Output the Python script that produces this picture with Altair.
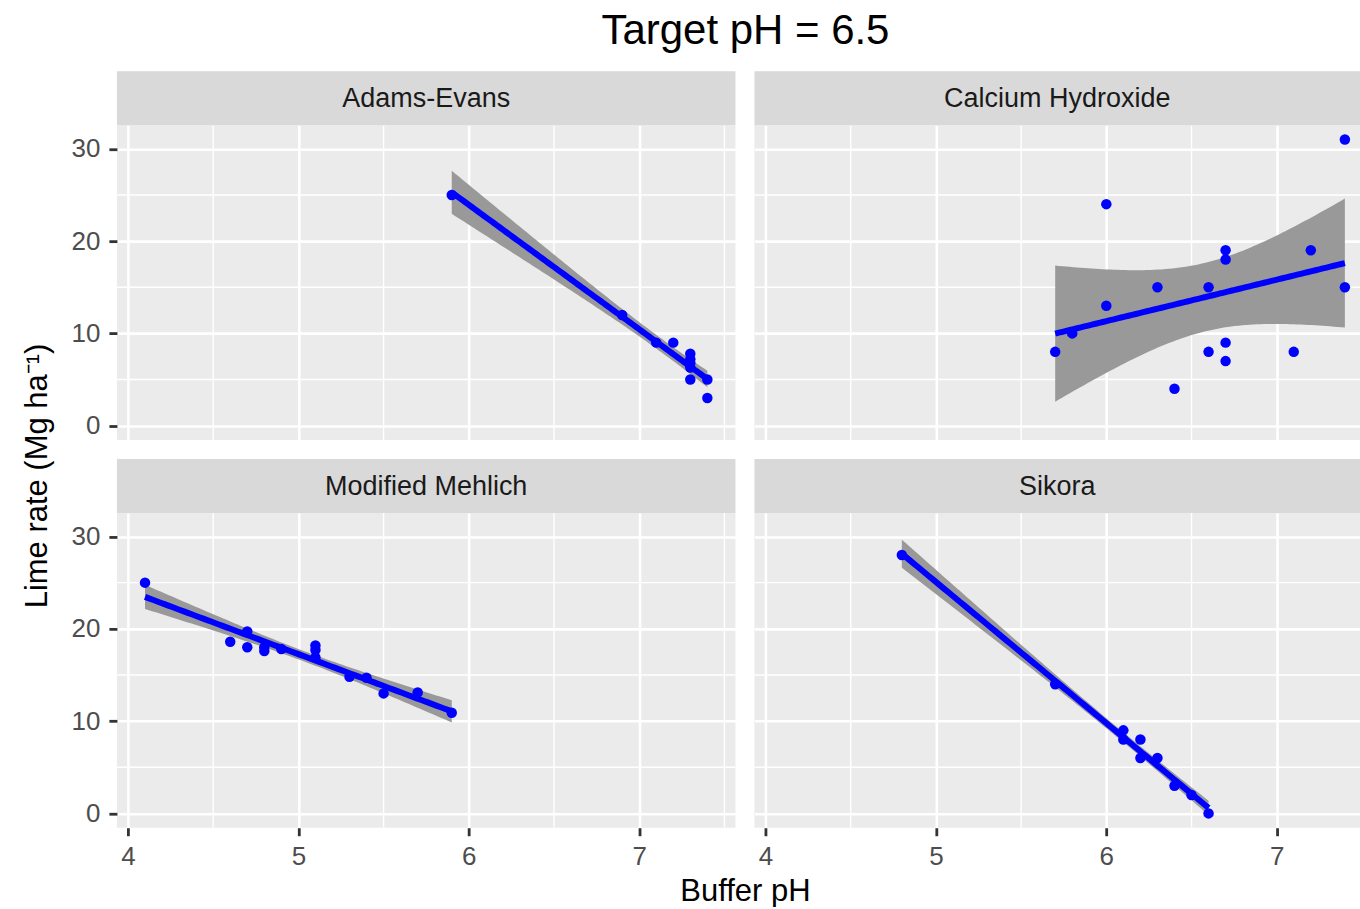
import math

import altair as alt
import numpy as np
import pandas as pd

FONT = "Liberation Sans"

# Lime requirement (Mg/ha) against buffer pH for each buffer method
adams_ph = [5.9, 6.9, 7.1, 7.2, 7.3, 7.3, 7.3, 7.3, 7.3, 7.4, 7.4]
adams_rate = [25, 12, 9, 9, 7.8, 7.2, 6.8, 6.3, 5, 5, 3]

caoh_ph = [5.7, 5.8, 6.0, 6.0, 6.3, 6.4, 6.6, 6.6, 6.7, 6.7, 6.7, 6.7, 7.1, 7.2, 7.4, 7.4]
caoh_rate = [8, 10, 24, 13, 15, 4, 15, 8, 19, 18, 9, 7, 8, 19, 31, 15]

mehlich_ph = [4.1, 4.6, 4.7, 4.7, 4.8, 4.8, 4.9, 5.1, 5.1, 5.1, 5.3, 5.4, 5.5, 5.7, 5.9]
mehlich_rate = [25, 18.6, 19.7, 18, 18, 17.6, 17.8, 18.2, 17.7, 16.9, 14.8, 14.7, 13, 13.1, 10.9]

sikora_ph = [4.8, 5.7, 6.1, 6.1, 6.2, 6.2, 6.3, 6.4, 6.5, 6.6]
sikora_rate = [28, 14, 9, 8, 8, 6, 6, 3, 2, 0]

methods = ["Adams-Evans", "Calcium Hydroxide", "Modified Mehlich", "Sikora"]
series = {
    "Adams-Evans": (adams_ph, adams_rate),
    "Calcium Hydroxide": (caoh_ph, caoh_rate),
    "Modified Mehlich": (mehlich_ph, mehlich_rate),
    "Sikora": (sikora_ph, sikora_rate),
}

x_major = [4, 5, 6, 7]
x_minor = [4.5, 5.5, 6.5, 7.5]
y_major = [0, 10, 20, 30]
y_minor = [5, 15, 25]

# panel geometry
LEFT_W = 619
RIGHT_W = 606
PANEL_H = 315
STRIP_H = 54
X_LO, X_HI = 3.935, 7.565
Y_DOMAIN = [-1.55, 32.55]
PX_PER_UNIT = LEFT_W / (X_HI - X_LO)


def t_quantile(p, df):
    """Student-t quantile by integrating the density numerically."""
    grid = np.linspace(0.0, 15.0, 150001)
    c = math.gamma((df + 1) / 2) / (math.sqrt(df * math.pi) * math.gamma(df / 2))
    pdf = c * (1 + grid ** 2 / df) ** (-(df + 1) / 2)
    steps = (pdf[1:] + pdf[:-1]) / 2 * np.diff(grid)
    cdf = 0.5 + np.concatenate([[0.0], np.cumsum(steps)])
    return float(np.interp(p, cdf, grid))


def linear_fit(xs, ys, n=80):
    """OLS line with a 95% confidence band, like geom_smooth(method = 'lm')."""
    x = np.asarray(xs, dtype=float)
    y = np.asarray(ys, dtype=float)
    b1, b0 = np.polyfit(x, y, 1)
    resid = y - (b0 + b1 * x)
    dof = len(x) - 2
    s = math.sqrt(float(resid @ resid) / dof)
    sxx = float(((x - x.mean()) ** 2).sum())
    g = np.linspace(x.min(), x.max(), n)
    fit = b0 + b1 * g
    se = s * np.sqrt(1.0 / len(x) + (g - x.mean()) ** 2 / sxx)
    t = t_quantile(0.975, dof)
    return pd.DataFrame({"x": g, "fit": fit, "lo": fit - t * se, "hi": fit + t * se})


def panel(name, width, show_x, show_y, extras=()):
    ph, rate = series[name]
    pts = pd.DataFrame({"ph": ph, "rate": rate})
    fit = linear_fit(ph, rate)
    x_hi = X_LO + width / PX_PER_UNIT

    xscale = alt.Scale(domain=[X_LO, x_hi], nice=False, zero=False)
    yscale = alt.Scale(domain=Y_DOMAIN, nice=False, zero=False)
    xaxis = alt.Axis(
        values=x_major, title=None, grid=True, domain=False,
        labels=show_x, ticks=show_x, labelPadding=8,
    )
    yaxis = alt.Axis(
        values=y_major, title=None, grid=True, domain=False,
        labels=show_y, ticks=show_y, labelPadding=9,
    )

    def X(field):
        return alt.X(field, type="quantitative", scale=xscale, axis=xaxis)

    def Y(field):
        return alt.Y(field, type="quantitative", scale=yscale, axis=yaxis)

    minor_x = alt.Chart(pd.DataFrame({"v": x_minor})).mark_rule(
        color="white", strokeWidth=1.4, clip=True
    ).encode(x=X("v"))
    minor_y = alt.Chart(pd.DataFrame({"v": y_minor})).mark_rule(
        color="white", strokeWidth=1.4, clip=True
    ).encode(y=Y("v"))

    band = alt.Chart(fit).mark_area(color="#999999", opacity=1).encode(
        x=X("x"), y=Y("lo"), y2="hi"
    )
    line = alt.Chart(fit).mark_line(color="#0000FF", strokeWidth=6).encode(
        x=X("x"), y=Y("fit")
    )
    dots = alt.Chart(pts).mark_circle(color="#0000FF", size=110, opacity=1).encode(
        x=X("ph"), y=Y("rate")
    )

    lab = pd.DataFrame({"label": [name]})
    strip = alt.Chart(lab).mark_rect(color="#D9D9D9").encode(
        x=alt.value(0), x2=alt.value(width),
        y=alt.value(-STRIP_H), y2=alt.value(0),
    )
    strip_text = alt.Chart(lab).mark_text(
        font=FONT, fontSize=27, color="#1A1A1A", align="center", baseline="middle"
    ).encode(
        x=alt.value(width / 2), y=alt.value(-STRIP_H / 2 + 1), text="label:N"
    )

    return alt.layer(
        minor_x, minor_y, band, line, dots, strip, strip_text, *extras
    ).properties(width=width, height=PANEL_H)


title_text = alt.Chart(pd.DataFrame({"t": ["Target pH = 6.5"]})).mark_text(
    font=FONT, fontSize=42, color="black", align="center", baseline="alphabetic"
).encode(x=alt.value(629), y=alt.value(-81), text="t:N")

x_title = alt.Chart(pd.DataFrame({"t": ["Buffer pH"]})).mark_text(
    font=FONT, fontSize=31, color="black", align="center", baseline="alphabetic"
).encode(x=alt.value(629), y=alt.value(PANEL_H + 73), text="t:N")

y_title = alt.Chart(pd.DataFrame({"t": ["Lime rate (Mg ha\u207b\u00b9)"]})).mark_text(
    font=FONT, fontSize=31, color="black", align="center", baseline="middle", angle=270
).encode(x=alt.value(-79), y=alt.value(-37), text="t:N")

chart = alt.concat(
    panel("Adams-Evans", LEFT_W, False, True, extras=(title_text,)),
    panel("Calcium Hydroxide", RIGHT_W, False, False),
    panel("Modified Mehlich", LEFT_W, True, True, extras=(x_title, y_title)),
    panel("Sikora", RIGHT_W, True, False),
    columns=2,
    spacing={"row": 73, "column": 19},
    bounds="flush",
).properties(
    padding={"left": 21, "top": 10, "right": 0, "bottom": 0},
    background="white",
).configure_view(
    fill="#EBEBEB", stroke=None
).configure_axis(
    gridColor="white",
    gridWidth=2.6,
    tickColor="#333333",
    tickWidth=2.8,
    tickSize=8,
    labelFont=FONT,
    labelFontSize=26,
    labelColor="#4D4D4D",
)

chart.save("out.html", embed_options={"renderer": "svg", "actions": False})
